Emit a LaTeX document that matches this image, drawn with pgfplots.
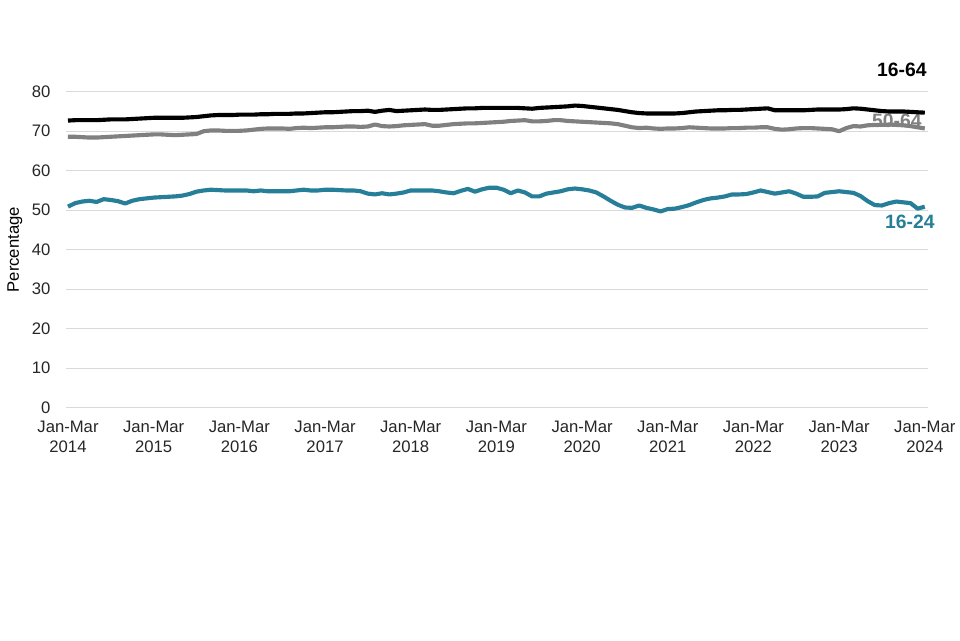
\documentclass[border=0pt]{standalone}
\usepackage{fontspec}
\setmainfont{Liberation Sans}
\usepackage{pgfplots}
\pgfplotsset{compat=1.18}

\definecolor{teal24}{RGB}{39,126,152}
\definecolor{grey64}{RGB}{128,128,128}
\definecolor{gridgrey}{RGB}{217,217,217}

% employment rate, rolling quarters, month index 0 = Jan-Mar 2014
\pgfplotstableread{
i r1664 r5064 r1624
0 72.7 68.6 50.9
1 72.8 68.6 51.8
2 72.8 68.5 52.2
3 72.8 68.4 52.4
4 72.8 68.4 52.1
5 72.9 68.5 52.8
6 73.0 68.6 52.6
7 73.0 68.7 52.3
8 73.0 68.8 51.7
9 73.1 68.9 52.4
10 73.2 69.0 52.8
11 73.3 69.1 53.0
12 73.4 69.2 53.2
13 73.4 69.2 53.3
14 73.4 69.1 53.4
15 73.4 69.0 53.5
16 73.4 69.1 53.7
17 73.5 69.2 54.1
18 73.6 69.3 54.7
19 73.8 70.0 55.0
20 74.0 70.2 55.2
21 74.1 70.2 55.1
22 74.1 70.1 55.0
23 74.1 70.1 55.0
24 74.2 70.1 55.0
25 74.2 70.2 55.0
26 74.2 70.4 54.8
27 74.3 70.6 55.0
28 74.3 70.7 54.8
29 74.4 70.7 54.8
30 74.4 70.7 54.8
31 74.4 70.6 54.8
32 74.5 70.8 55.0
33 74.5 70.9 55.2
34 74.6 70.8 55.0
35 74.7 70.9 55.0
36 74.8 71.0 55.2
37 74.8 71.0 55.2
38 74.9 71.1 55.1
39 75.0 71.2 55.0
40 75.1 71.2 55.0
41 75.1 71.1 54.8
42 75.2 71.2 54.2
43 74.9 71.7 54.0
44 75.2 71.3 54.3
45 75.4 71.2 54.0
46 75.1 71.3 54.2
47 75.2 71.5 54.5
48 75.3 71.6 55.0
49 75.4 71.7 55.0
50 75.5 71.8 55.0
51 75.4 71.4 55.0
52 75.4 71.4 54.8
53 75.5 71.6 54.5
54 75.6 71.8 54.3
55 75.7 71.9 54.9
56 75.8 72.0 55.4
57 75.8 72.0 54.7
58 75.9 72.1 55.3
59 75.9 72.2 55.7
60 75.9 72.3 55.7
61 75.9 72.4 55.2
62 75.9 72.6 54.3
63 75.9 72.7 55.0
64 75.8 72.8 54.5
65 75.7 72.5 53.5
66 75.9 72.5 53.5
67 76.0 72.6 54.2
68 76.1 72.8 54.5
69 76.2 72.8 54.8
70 76.3 72.6 55.3
71 76.5 72.5 55.5
72 76.4 72.4 55.3
73 76.2 72.3 55.0
74 76.0 72.2 54.5
75 75.8 72.1 53.5
76 75.6 72.0 52.4
77 75.4 71.8 51.4
78 75.1 71.4 50.7
79 74.8 71.0 50.6
80 74.6 70.8 51.2
81 74.5 70.9 50.6
82 74.5 70.7 50.2
83 74.5 70.6 49.7
84 74.5 70.7 50.3
85 74.5 70.7 50.4
86 74.6 70.8 50.8
87 74.8 71.0 51.3
88 75.0 70.9 52.0
89 75.1 70.8 52.6
90 75.2 70.7 53.0
91 75.3 70.7 53.2
92 75.3 70.7 53.5
93 75.4 70.8 54.0
94 75.4 70.8 54.0
95 75.5 70.9 54.1
96 75.6 70.9 54.5
97 75.7 71.0 55.0
98 75.8 71.0 54.6
99 75.3 70.6 54.2
100 75.3 70.4 54.5
101 75.3 70.5 54.8
102 75.3 70.7 54.2
103 75.3 70.8 53.4
104 75.4 70.8 53.4
105 75.5 70.7 53.5
106 75.5 70.6 54.4
107 75.5 70.5 54.6
108 75.5 70.0 54.8
109 75.6 70.8 54.6
110 75.8 71.3 54.4
111 75.7 71.2 53.6
112 75.5 71.5 52.3
113 75.3 71.6 51.3
114 75.1 71.6 51.2
115 75.0 71.7 51.8
116 75.0 71.6 52.2
117 75.0 71.5 52.0
118 74.9 71.3 51.8
119 74.8 71.0 50.4
120 74.7 70.7 50.9
}\emp

\begin{document}
\begin{tikzpicture}
\path[use as bounding box] (-49.5pt,-174.2pt) rectangle (670.5pt,305.8pt);
\begin{axis}[
    scale only axis,
    width=646.5pt,
    height=237pt,
    xmin=-0.28, xmax=120.45,
    ymin=0, ymax=80,
    clip=false,
    axis line style={draw=none},
    major tick length=0pt,
    ytick={0,10,...,80},
    xtick={0,12,...,120},
    xticklabels={Jan-Mar\\2014,Jan-Mar\\2015,Jan-Mar\\2016,Jan-Mar\\2017,Jan-Mar\\2018,Jan-Mar\\2019,Jan-Mar\\2020,Jan-Mar\\2021,Jan-Mar\\2022,Jan-Mar\\2023,Jan-Mar\\2024},
    ymajorgrids=true,
    grid style={gridgrey, line width=0.9pt},
    /pgf/number format/assume math mode=true,
    tick label style={font=\fontsize{12.5}{15}\selectfont, text=black!85},
    yticklabel style={inner sep=0pt, xshift=-11.5pt},
    xticklabel style={align=center, inner sep=0pt, yshift=-10pt},
    ylabel={Percentage},
    ylabel style={at={(axis description cs:-0.0592,0.5)}, anchor=center, font=\fontsize{12.5}{15}\selectfont},
    every node near coord/.append style={inner sep=0pt},
]
\node[anchor=east, inner sep=0pt, text=grey64, font=\bfseries\fontsize{14.5}{17}\selectfont] at (axis cs:119.6,72.6) {50-64};
\addplot[grey64, line width=3.1pt, line join=round] table[x=i, y=r5064] {\emp};
\addplot[black, line width=3.1pt, line join=round] table[x=i, y=r1664] {\emp};
\addplot[teal24, line width=3.1pt, line join=round] table[x=i, y=r1624] {\emp};
\node[anchor=east, inner sep=0pt, text=black, font=\bfseries\fontsize{14.5}{17}\selectfont] at (axis cs:120.3,85.5) {16-64};
\node[anchor=east, inner sep=0pt, text=teal24, font=\bfseries\fontsize{14.5}{17}\selectfont] at (axis cs:121.4,47.1) {16-24};
\end{axis}
\end{tikzpicture}
\end{document}
